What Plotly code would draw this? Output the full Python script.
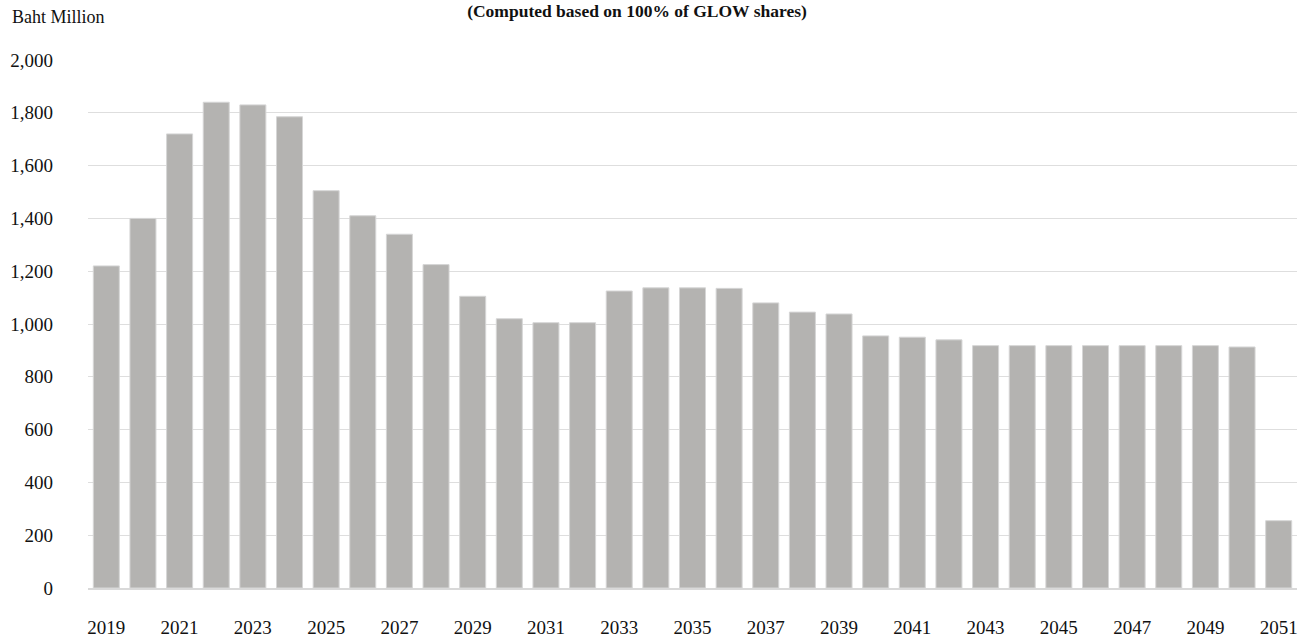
import plotly.graph_objects as go

# Annual values, Baht Million (computed on 100% of GLOW shares)
years = [str(y) for y in range(2019, 2052)]
values = [1220, 1400, 1720, 1840, 1830, 1785, 1505, 1410, 1340, 1225,
          1105, 1020, 1005, 1005, 1125, 1137, 1137, 1135, 1080, 1045,
          1038, 955, 950, 940, 918, 918, 918, 918, 918, 918,
          918, 913, 255]
tick_years = [str(y) for y in range(2019, 2052, 2)]
y_ticks = list(range(0, 2001, 200))
y_tick_text = [f"{v:,}" for v in y_ticks]

FONT = "Liberation Serif, Times New Roman, serif"

fig = go.Figure(
    go.Bar(
        x=years,
        y=values,
        marker=dict(color="#b4b3b1", line=dict(color="#d6d6d6", width=1)),
        hoverinfo="x+y",
    )
)

fig.update_layout(
    width=1309,
    height=639,
    margin=dict(l=88, r=12, t=60, b=51),
    paper_bgcolor="white",
    plot_bgcolor="white",
    bargap=0.29,
    showlegend=False,
    font=dict(family=FONT, size=19, color="#111111"),
    title=dict(
        text="<b>(Computed based on 100% of GLOW shares)</b>",
        font=dict(family=FONT, size=17.5, color="#111111"),
        x=637 / 1309,
        xanchor="center",
        xref="container",
        y=1 - 5 / 639,
        yanchor="top",
        yref="container",
        pad=dict(t=0, b=0),
    ),
    annotations=[
        dict(
            text="Baht Million",
            xref="paper", yref="paper",
            x=-78 / 1209, y=1 + 43 / 528,
            xanchor="left", yanchor="middle",
            showarrow=False,
            font=dict(family=FONT, size=18, color="#111111"),
        )
    ],
)

fig.update_xaxes(
    type="category",
    tickmode="array",
    tickvals=tick_years,
    ticktext=tick_years,
    showgrid=False,
    showline=True,
    linecolor="#d9d9d9",
    linewidth=2,
    ticks="",
    ticklabelstandoff=21,
    automargin=False,
    range=[-0.5, 32.5],
)

fig.update_yaxes(
    range=[0, 2000],
    tickmode="array",
    tickvals=y_ticks,
    ticktext=y_tick_text,
    showgrid=True,
    gridcolor="#dedede",
    gridwidth=1,
    zeroline=False,
    showline=False,
    ticks="",
    ticklabelstandoff=34,
    automargin=False,
)

fig.write_html("out.html")
